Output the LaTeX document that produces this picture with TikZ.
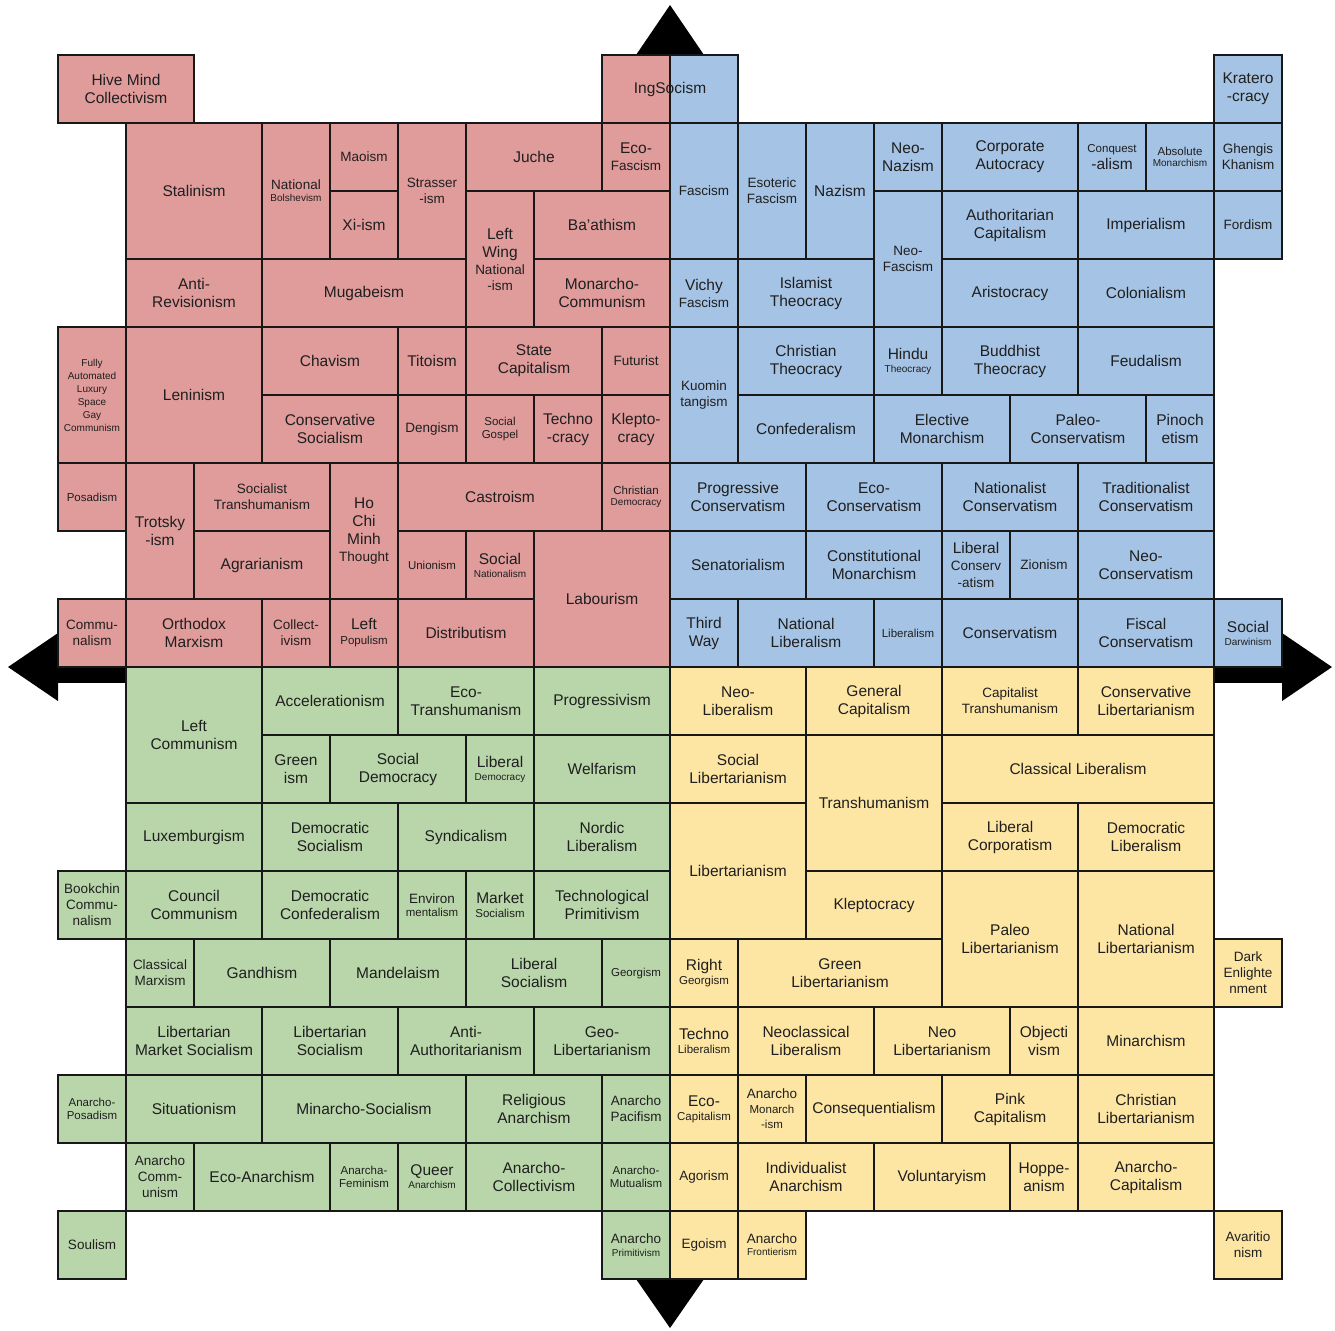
\documentclass[tikz,border=0pt]{standalone}
\usepackage{fontspec}
\setmainfont{Liberation Sans}
\usepackage{xcolor}
\usepackage{tikz}

\definecolor{redq}{RGB}{224,155,155}
\definecolor{blueq}{RGB}{165,195,228}
\definecolor{greenq}{RGB}{185,214,170}
\definecolor{yellowq}{RGB}{253,229,163}
\definecolor{edgeq}{RGB}{24,24,24}

\newcommand{\sza}{\fontsize{15.5}{18}\selectfont}
\newcommand{\szb}{\fontsize{13.5}{16}\selectfont}
\newcommand{\szc}{\fontsize{11.5}{13.5}\selectfont}
\newcommand{\szd}{\fontsize{10}{13}\selectfont}

\tikzset{
  cell/.style={draw=edgeq,line width=2.4pt,inner sep=0pt,align=center,text=black!88},
  redcell/.style={cell,fill=redq},
  bluecell/.style={cell,fill=blueq},
  greencell/.style={cell,fill=greenq},
  yellowcell/.style={cell,fill=yellowq},
  axis/.style={line width=32pt,black,shorten <=40pt,shorten >=40pt}
}

\begin{document}
\begin{tikzpicture}[x=68pt,y=-68pt]
\useasboundingbox (-0.853,-0.809) rectangle (18.779,18.75);
% axes
\coordinate (top) at (9,-0.735);
\coordinate (bot) at (9,18.72);
\coordinate (lft) at (-0.735,9);
\coordinate (rgt) at (18.735,9);
\draw[axis] (lft) -- (rgt);
\draw[axis] (top) -- (bot);
\fill (top) -- ++(-0.5,0.735) -- ++(1,0) -- cycle;
\fill (bot) -- ++(-0.5,-0.72) -- ++(1,0) -- cycle;
\fill (lft) -- ++(0.735,-0.5) -- ++(0,1) -- cycle;
\fill (rgt) -- ++(-0.735,-0.5) -- ++(0,1) -- cycle;
% authoritarian left
\foreach \x/\y/\w/\h/\fnt/\txt [count=\i] in {
  0/0/2/1/\sza/Hive Mind\\Collectivism,
  1/1/2/2/\sza/Stalinism,
  3/1/1/2/\szb/National\\[-4pt]\szd Bolshevism,
  4/1/1/1/\szb/Maoism,
  4/2/1/1/\sza/Xi-ism,
  5/1/1/2/\szb/Strasser\\-ism,
  6/1/2/1/\sza/Juche,
  8/1/1/1/\sza/Eco-\\[-1pt]\szb Fascism,
  6/2/1/2/\sza/Left\\Wing\\[-1pt]\szb National\\[-2pt]\szb -ism,
  7/2/2/1/\sza/Ba'athism,
  1/3/2/1/\sza/Anti-\\Revisionism,
  3/3/3/1/\sza/Mugabeism,
  7/3/2/1/\sza/Monarcho-\\Communism,
  0/4/1/2/\szd/Fully\\Automated\\Luxury\\Space\\Gay\\Communism,
  1/4/2/2/\sza/Leninism,
  3/4/2/1/\sza/Chavism,
  5/4/1/1/\sza/Titoism,
  6/4/2/1/\sza/State\\Capitalism,
  8/4/1/1/\szb/Futurist,
  3/5/2/1/\sza/Conservative\\Socialism,
  5/5/1/1/\szb/Dengism,
  6/5/1/1/\szc/Social\\Gospel,
  7/5/1/1/\sza/Techno\\-cracy,
  8/5/1/1/\sza/Klepto-\\cracy,
  0/6/1/1/\szc/Posadism,
  1/6/1/2/\sza/Trotsky\\-ism,
  2/6/2/1/\szb/Socialist\\Transhumanism,
  4/6/1/2/\sza/Ho\\Chi\\Minh\\[-1pt]\szb Thought,
  5/6/3/1/\sza/Castroism,
  8/6/1/1/\szc/Christian\\[-2pt]\szd Democracy,
  2/7/2/1/\sza/Agrarianism,
  5/7/1/1/\szc/Unionism,
  6/7/1/1/\sza/Social\\[-5pt]\szd Nationalism,
  7/7/2/2/\sza/Labourism,
  0/8/1/1/\szb/Commu-\\nalism,
  1/8/2/1/\sza/Orthodox\\Marxism,
  3/8/1/1/\szb/Collect-\\ivism,
  4/8/1/1/\sza/Left\\[-3pt]\szc Populism,
  5/8/2/1/\sza/Distributism} {
  \node[redcell,font=\fnt,minimum width=\w*68pt,minimum height=\h*68pt] (red\i) at ({\x+\w/2},{\y+\h/2}) {\txt};
}
% authoritarian right
\foreach \x/\y/\w/\h/\fnt/\txt [count=\i] in {
  17/0/1/1/\sza/Kratero\\-cracy,
  9/1/1/2/\szb/Fascism,
  10/1/1/2/\szb/Esoteric\\Fascism,
  11/1/1/2/\sza/Nazism,
  12/1/1/1/\sza/Neo-\\Nazism,
  13/1/2/1/\sza/Corporate\\Autocracy,
  15/1/1/1/\szc/Conquest\\[3pt]\sza -alism,
  16/1/1/1/\szc/Absolute\\[-2pt]\szd Monarchism,
  17/1/1/1/\szb/Ghengis\\Khanism,
  12/2/1/2/\szb/Neo-\\Fascism,
  13/2/2/1/\sza/Authoritarian\\Capitalism,
  15/2/2/1/\sza/Imperialism,
  17/2/1/1/\szb/Fordism,
  9/3/1/1/\sza/Vichy\\[-1pt]\szb Fascism,
  10/3/2/1/\sza/Islamist\\Theocracy,
  13/3/2/1/\sza/Aristocracy,
  15/3/2/1/\sza/Colonialism,
  9/4/1/2/\szb/Kuomin\\tangism,
  10/4/2/1/\sza/Christian\\Theocracy,
  12/4/1/1/\sza/Hindu\\[-5pt]\szd Theocracy,
  13/4/2/1/\sza/Buddhist\\Theocracy,
  15/4/2/1/\sza/Feudalism,
  10/5/2/1/\sza/Confederalism,
  12/5/2/1/\sza/Elective\\Monarchism,
  14/5/2/1/\sza/Paleo-\\Conservatism,
  16/5/1/1/\sza/Pinoch\\etism,
  9/6/2/1/\sza/Progressive\\Conservatism,
  11/6/2/1/\sza/Eco-\\Conservatism,
  13/6/2/1/\sza/Nationalist\\Conservatism,
  15/6/2/1/\sza/Traditionalist\\Conservatism,
  9/7/2/1/\sza/Senatorialism,
  11/7/2/1/\sza/Constitutional\\Monarchism,
  13/7/1/1/\sza/Liberal\\[-1pt]\szb Conserv\\[-1pt]\szb -atism,
  14/7/1/1/\szb/Zionism,
  15/7/2/1/\sza/Neo-\\Conservatism,
  9/8/1/1/\sza/Third\\Way,
  10/8/2/1/\sza/National\\Liberalism,
  12/8/1/1/\szc/Liberalism,
  13/8/2/1/\sza/Conservatism,
  15/8/2/1/\sza/Fiscal\\Conservatism,
  17/8/1/1/\sza/Social\\[-5pt]\szd Darwinism} {
  \node[bluecell,font=\fnt,minimum width=\w*68pt,minimum height=\h*68pt] (blue\i) at ({\x+\w/2},{\y+\h/2}) {\txt};
}
% split cell on the axis
\fill[redq] (8,0) rectangle (9,1);
\fill[blueq] (9,0) rectangle (10,1);
\draw[edgeq,line width=1.6pt] (9,0) -- (9,1);
\node[cell,font=\sza,minimum width=136pt,minimum height=68pt] (ingsoc) at (9,0.5) {IngSocism};
% libertarian left
\foreach \x/\y/\w/\h/\fnt/\txt [count=\i] in {
  1/9/2/2/\sza/Left\\Communism,
  3/9/2/1/\sza/Accelerationism,
  5/9/2/1/\sza/Eco-\\Transhumanism,
  7/9/2/1/\sza/Progressivism,
  3/10/1/1/\sza/Green\\ism,
  4/10/2/1/\sza/Social\\Democracy,
  6/10/1/1/\sza/Liberal\\[-5pt]\szd Democracy,
  7/10/2/1/\sza/Welfarism,
  1/11/2/1/\sza/Luxemburgism,
  3/11/2/1/\sza/Democratic\\Socialism,
  5/11/2/1/\sza/Syndicalism,
  7/11/2/1/\sza/Nordic\\Liberalism,
  0/12/1/1/\szb/Bookchin\\Commu-\\nalism,
  1/12/2/1/\sza/Council\\Communism,
  3/12/2/1/\sza/Democratic\\Confederalism,
  5/12/1/1/\szb/Environ\\[-3pt]\szc mentalism,
  6/12/1/1/\sza/Market\\[-3.5pt]\szc Socialism,
  7/12/2/1/\sza/Technological\\Primitivism,
  1/13/1/1/\szb/Classical\\Marxism,
  2/13/2/1/\sza/Gandhism,
  4/13/2/1/\sza/Mandelaism,
  6/13/2/1/\sza/Liberal\\Socialism,
  8/13/1/1/\szc/Georgism,
  1/14/2/1/\sza/Libertarian\\Market Socialism,
  3/14/2/1/\sza/Libertarian\\Socialism,
  5/14/2/1/\sza/Anti-\\Authoritarianism,
  7/14/2/1/\sza/Geo-\\Libertarianism,
  0/15/1/1/\szc/Anarcho-\\Posadism,
  1/15/2/1/\sza/Situationism,
  3/15/3/1/\sza/Minarcho-Socialism,
  6/15/2/1/\sza/Religious\\Anarchism,
  8/15/1/1/\szb/Anarcho\\Pacifism,
  1/16/1/1/\szb/Anarcho\\Comm-\\unism,
  2/16/2/1/\sza/Eco-Anarchism,
  4/16/1/1/\szc/Anarcha-\\Feminism,
  5/16/1/1/\sza/Queer\\[-5pt]\szd Anarchism,
  6/16/2/1/\sza/Anarcho-\\Collectivism,
  8/16/1/1/\szc/Anarcho-\\Mutualism,
  0/17/1/1/\szb/Soulism,
  8/17/1/1/\szb/Anarcho\\[-3pt]\szd Primitivism} {
  \node[greencell,font=\fnt,minimum width=\w*68pt,minimum height=\h*68pt] (green\i) at ({\x+\w/2},{\y+\h/2}) {\txt};
}
% libertarian right
\foreach \x/\y/\w/\h/\fnt/\txt [count=\i] in {
  9/9/2/1/\sza/Neo-\\Liberalism,
  11/9/2/1/\sza/General\\Capitalism,
  13/9/2/1/\szb/Capitalist\\Transhumanism,
  15/9/2/1/\sza/Conservative\\Libertarianism,
  9/10/2/1/\sza/Social\\Libertarianism,
  11/10/2/2/\sza/Transhumanism,
  13/10/4/1/\sza/Classical Liberalism,
  9/11/2/2/\sza/Libertarianism,
  13/11/2/1/\sza/Liberal\\Corporatism,
  15/11/2/1/\sza/Democratic\\Liberalism,
  11/12/2/1/\sza/Kleptocracy,
  13/12/2/2/\sza/Paleo\\Libertarianism,
  15/12/2/2/\sza/National\\Libertarianism,
  9/13/1/1/\sza/Right\\[-3.5pt]\szc Georgism,
  10/13/3/1/\sza/Green\\Libertarianism,
  17/13/1/1/\szb/Dark\\Enlighte\\nment,
  9/14/1/1/\sza/Techno\\[-3.5pt]\szc Liberalism,
  10/14/2/1/\sza/Neoclassical\\Liberalism,
  12/14/2/1/\sza/Neo\\Libertarianism,
  14/14/1/1/\sza/Objecti\\vism,
  15/14/2/1/\sza/Minarchism,
  9/15/1/1/\sza/Eco-\\[-4pt]\szc Capitalism,
  10/15/1/1/\szb/Anarcho\\[-1pt]\szc Monarch\\[-1pt]\szc -ism,
  11/15/2/1/\sza/Consequentialism,
  13/15/2/1/\sza/Pink\\Capitalism,
  15/15/2/1/\sza/Christian\\Libertarianism,
  9/16/1/1/\szb/Agorism,
  10/16/2/1/\sza/Individualist\\Anarchism,
  12/16/2/1/\sza/Voluntaryism,
  14/16/1/1/\sza/Hoppe-\\anism,
  15/16/2/1/\sza/Anarcho-\\Capitalism,
  9/17/1/1/\szb/Egoism,
  10/17/1/1/\szb/Anarcho\\[-4pt]\szd Frontierism,
  17/17/1/1/\szb/Avaritio\\nism} {
  \node[yellowcell,font=\fnt,minimum width=\w*68pt,minimum height=\h*68pt] (yellow\i) at ({\x+\w/2},{\y+\h/2}) {\txt};
}
\end{tikzpicture}
\end{document}
